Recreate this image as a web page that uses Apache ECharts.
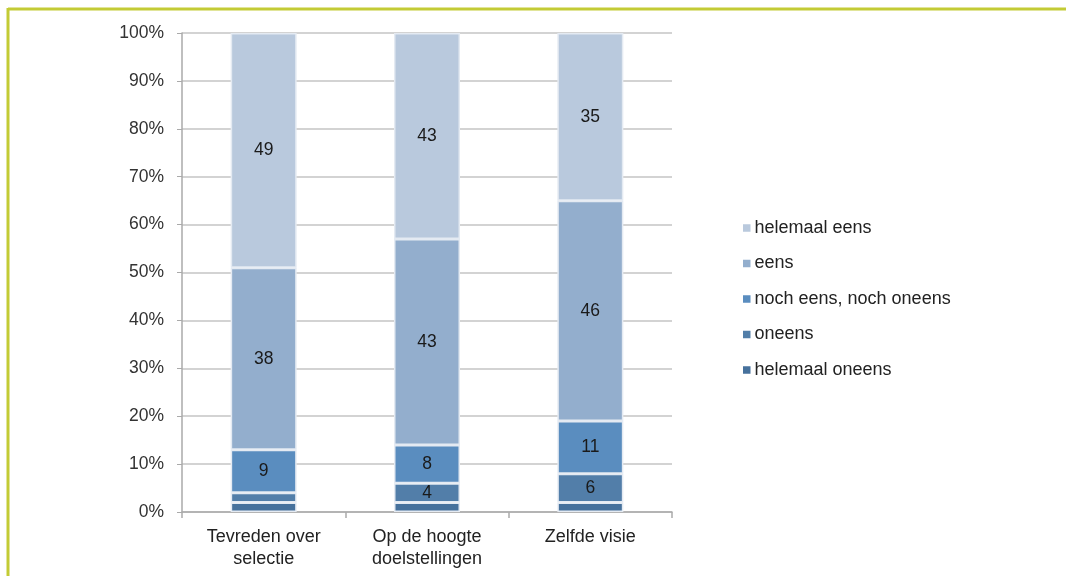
<!DOCTYPE html>
<html><head><meta charset="utf-8">
<script src="https://cdn.jsdelivr.net/npm/echarts@6/dist/echarts.min.js"></script>
<style>html,body{margin:0;padding:0;background:#fff}#c{width:1066px;height:576px}</style>
</head><body><div id="c"></div>
<script>
const categories = ['Tevreden over\nselectie', 'Op de hoogte\ndoelstellingen', 'Zelfde visie'];
const helemaalOneens = [2, 2, 2];
const oneens = [2, 4, 6];
const nochNoch = [9, 8, 11];
const eens = [38, 43, 46];
const helemaalEens = [49, 43, 35];
const yTicks = [0, 10, 20, 30, 40, 50, 60, 70, 80, 90, 100];

const seriesDefs = [
  {name: 'helemaal oneens', data: helemaalOneens, color: '#46719c'},
  {name: 'oneens', data: oneens, color: '#527ea9'},
  {name: 'noch eens, noch oneens', data: nochNoch, color: '#5a8dbf'},
  {name: 'eens', data: eens, color: '#93aecd'},
  {name: 'helemaal eens', data: helemaalEens, color: '#b9c9dd'}
];

const chart = echarts.init(document.getElementById('c'), null, {renderer: 'canvas'});
const font = 'Liberation Sans, Arial, Helvetica, sans-serif';
chart.setOption({
  animation: false,
  grid: {left: 182, right: 394, top: 33, bottom: 64},
  graphic: [
    {type: 'line', shape: {x1: 8, y1: 9, x2: 1066, y2: 9}, style: {stroke: '#c3cb35', lineWidth: 3}},
    {type: 'line', shape: {x1: 8, y1: 8, x2: 8, y2: 576}, style: {stroke: '#c3cb35', lineWidth: 3}}
  ],
  legend: {
    orient: 'vertical', left: 738, top: 212, itemGap: 13.5,
    itemWidth: 7.5, itemHeight: 7.5, icon: 'rect',
    itemStyle: {borderWidth: 0},
    data: ['helemaal eens', 'eens', 'noch eens, noch oneens', 'oneens', 'helemaal oneens'],
    textStyle: {fontFamily: font, fontSize: 18, lineHeight: 22, color: '#222', padding: [0, 0, 0, -1]}
  },
  xAxis: {
    type: 'category', data: categories,
    axisLine: {lineStyle: {color: '#aaa', width: 1.5}},
    axisTick: {show: true, length: 6, lineStyle: {color: '#aaa', width: 1.5}},
    axisLabel: {fontFamily: font, fontSize: 18, color: '#222', margin: 14, lineHeight: 22}
  },
  yAxis: {
    type: 'value', min: 0, max: 100, interval: 10,
    axisLine: {show: true, lineStyle: {color: '#aaa', width: 1.5}},
    axisTick: {show: true, length: 5, lineStyle: {color: '#aaa'}},
    splitLine: {lineStyle: {color: '#c4c4c4', width: 1.5}},
    axisLabel: {fontFamily: font, fontSize: 17.5, color: '#333', margin: 18,
      formatter: v => yTicks.includes(v) ? v + '%' : ''}
  },
  series: seriesDefs.map(s => ({
    name: s.name, type: 'bar', stack: 'total', barWidth: 66,
    data: s.data,
    itemStyle: {color: s.color, borderColor: '#e4eaf2', borderWidth: 1.5},
    label: {
      show: true, position: 'inside', fontFamily: font, fontSize: 17.5, color: '#1a1a1a',
      formatter: p => p.value >= 4 ? p.value : ''
    }
  }))
});
</script></body></html>
